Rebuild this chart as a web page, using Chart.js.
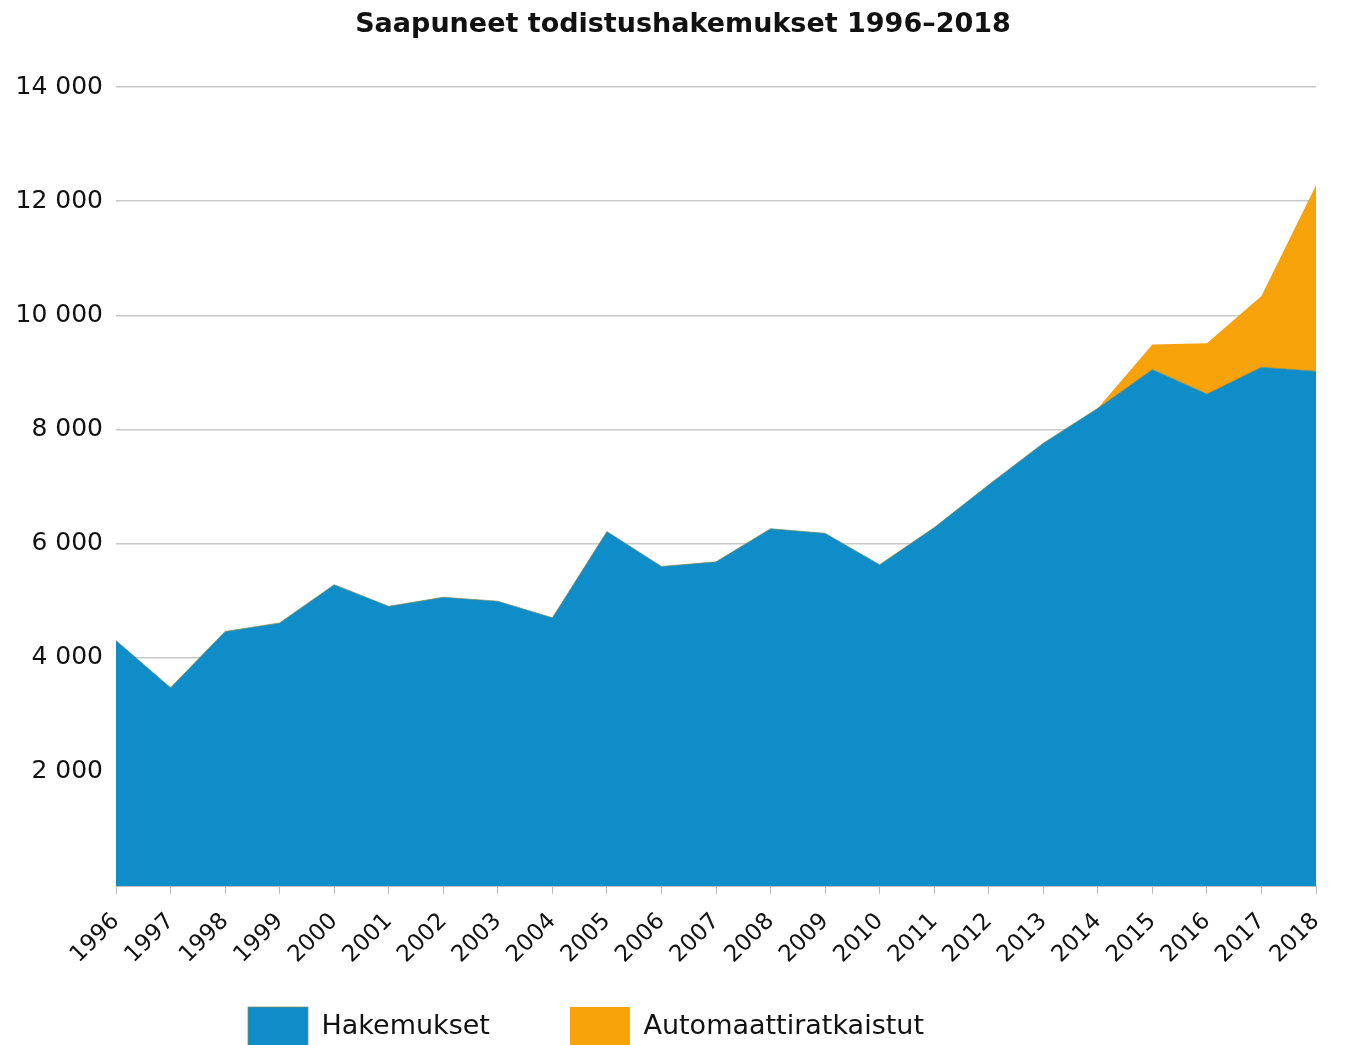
<!DOCTYPE html>
<html><head><meta charset="utf-8">
<script src="https://cdn.jsdelivr.net/npm/chart.js@4/dist/chart.umd.min.js"></script>
<style>
html,body{margin:0;padding:0;background:#fff;overflow:hidden;}
#wrap{width:1353px;height:1045px;overflow:hidden;position:relative;}
canvas{display:block;}
</style></head>
<body><div id="wrap"><canvas id="c" width="1353" height="1096"></canvas></div>
<script>
const chartTitle = 'Saapuneet todistushakemukset 1996\u20132018';
const years = ['1996','1997','1998','1999','2000','2001','2002','2003','2004','2005','2006','2007','2008','2009','2010','2011','2012','2013','2014','2015','2016','2017','2018'];
const hakemukset = [4300,3475,4460,4610,5280,4900,5060,4990,4700,6210,5600,5680,6260,6180,5630,6280,7030,7760,8370,9050,8620,9090,9020];
const automaattiratkaistut = [0,0,0,0,0,0,0,0,0,0,0,0,0,0,0,0,0,0,0,440,890,1250,3260];
const seriesNames = ['Hakemukset','Automaattiratkaistut'];
const yMax = 14000, yStep = 2000;

const fmt = v => v === 0 ? '' : String(v).replace(/\B(?=(\d{3})+(?!\d))/g, ' ');
const FONT = "'DejaVu Sans', Verdana, sans-serif";

const placeBoxes = {
  id: 'placeBoxes',
  afterLayout(chart) {
    const lg = chart.legend;
    const pad = lg.options.labels.padding;
    const w = lg.right - lg.left;
    lg.left = 248 - pad; lg.right = lg.left + w;
    const h = lg.bottom - lg.top;
    lg.top = 1007 - pad; lg.bottom = lg.top + h;
    const t = chart.titleBlock;
    if (t) { t.left += 25; t.right += 25; }
  }
};

new Chart(document.getElementById('c'), {
  type: 'line',
  data: {
    labels: years,
    datasets: [
      { label: seriesNames[0], data: hakemukset, fill: 'origin',
        backgroundColor: '#0F8DC9', borderColor: 'rgba(120,140,90,0.7)', borderWidth: 1,
        pointRadius: 0, tension: 0 },
      { label: seriesNames[1], data: automaattiratkaistut, fill: '-1',
        backgroundColor: '#F8A20A', borderColor: '#F8A20A', borderWidth: 0,
        pointRadius: 0, tension: 0 }
    ]
  },
  options: {
    responsive: false,
    animation: false,
    layout: { padding: { left: 0, right: 37, top: 0, bottom: 0 } },
    plugins: {
      title: { display: true, text: chartTitle, color: '#111',
        font: { family: FONT, size: 27, weight: 'bold' }, padding: { top: 9, bottom: 45.6 } },
      legend: { position: 'bottom', align: 'start',
        labels: { boxWidth: 60, boxHeight: 40, padding: 80, color: '#111',
          font: { family: FONT, size: 27 } } },
      tooltip: { enabled: false }
    },
    scales: {
      x: {
        afterFit(s) { s.height = 80; },
        grid: { drawOnChartArea: false, drawTicks: true, tickLength: 8, color: '#bbb' },
        border: { display: true, color: '#bbb' },
        ticks: { color: '#111', font: { family: FONT, size: 23 }, maxRotation: 45, minRotation: 45, autoSkip: false, padding: 14 }
      },
      y: {
        stacked: true, min: 0, max: yMax,
        afterFit(s) { s.width = 116; },
        grid: { color: '#c8c8c8', lineWidth: 1.5, drawTicks: false },
        border: { display: false },
        ticks: { stepSize: yStep, callback: fmt, color: '#111', padding: 13,
          font: { family: FONT, size: 25 } }
      }
    }
  },
  plugins: [placeBoxes]
});
</script></body></html>
